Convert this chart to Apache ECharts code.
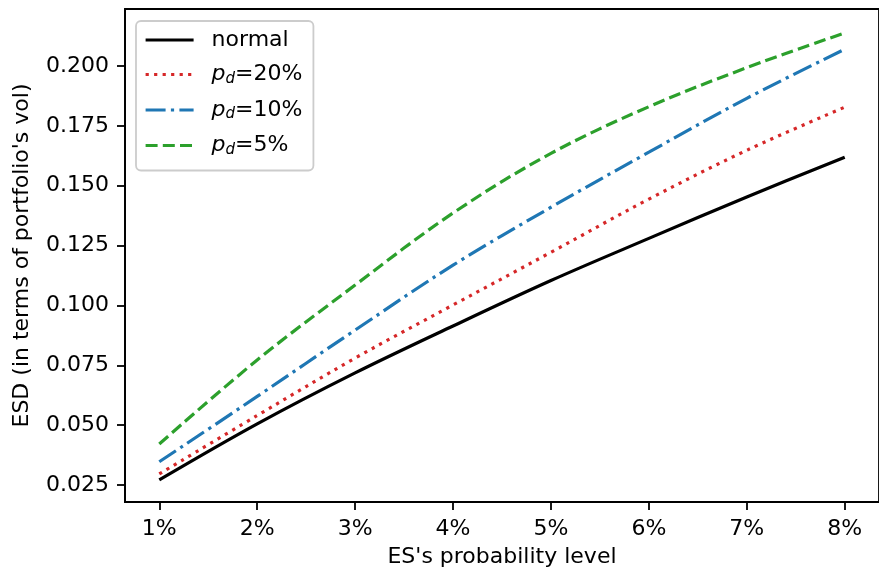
<!DOCTYPE html>
<html>
<head>
<meta charset="utf-8">
<script src="https://cdn.jsdelivr.net/npm/echarts@6/dist/echarts.min.js"></script>
<style>
  html, body { margin: 0; padding: 0; background: #fff; }
  #chart { width: 879px; height: 574px; }
</style>
</head>
<body>
<div id="chart"></div>
<script>
// ES probability level in %
const levels = [1, 2, 3, 4, 5, 6, 7, 8];
const normal = [0.0271, 0.0505, 0.0718, 0.0914, 0.1104, 0.1280, 0.1453, 0.1619];
const pd20 = [0.0296, 0.0540, 0.0780, 0.1002, 0.1222, 0.1444, 0.1648, 0.1828];
const pd10 = [0.0347, 0.0620, 0.0897, 0.1168, 0.1410, 0.1640, 0.1865, 0.2070];
const pd5 = [0.0421, 0.0772, 0.1085, 0.1386, 0.1635, 0.1830, 0.1993, 0.2138];
const xTicks = [1, 2, 3, 4, 5, 6, 7, 8];
const yTicks = [0.025, 0.05, 0.075, 0.1, 0.125, 0.15, 0.175, 0.2];

const chartDom = document.getElementById('chart');
const myChart = echarts.init(chartDom, null, { renderer: 'canvas' });

function pairs(vals) {
  return levels.map(function (x, i) { return [x, vals[i]]; });
}

function mkSeries(name, vals, color, type) {
  return {
    type: 'line',
    name: name,
    data: pairs(vals),
    smooth: 0.35,
    showSymbol: false,
    symbol: 'none',
    symbolSize: 0,
    lineStyle: { color: color, width: 3.2, type: type, cap: 'butt' },
    itemStyle: { color: color }
  };
}

const font = 'DejaVu Sans';
const fs = 22;

let option = {
  animation: false,
  textStyle: { fontFamily: font },
  grid: {
    left: 125, top: 9, right: -3, bottom: 72,
    show: true, borderColor: '#000', borderWidth: 1.8, backgroundColor: 'transparent'
  },
  legend: {
    left: 136, top: 21,
    orient: 'vertical',
    itemWidth: 48, itemHeight: 24, itemGap: 11.5,
    padding: [8, 11, 13, 8],
    borderColor: '#cccccc', borderWidth: 1.8, borderRadius: 5,
    backgroundColor: 'rgba(255,255,255,0.85)',
    itemStyle: { opacity: 0 },
    lineStyle: { width: 3.2 },
    textStyle: {
      fontFamily: font, fontSize: fs, color: '#000', padding: [0, 0, 0, 13],
      rich: {
        t: { fontFamily: font, fontSize: fs, color: '#000', lineHeight: 26 },
        i: { fontFamily: font, fontSize: fs, fontStyle: 'italic', color: '#000', lineHeight: 26 },
        s: { fontFamily: font, fontSize: 15, fontStyle: 'italic', color: '#000', lineHeight: 26, padding: [9, 0, 0, 0] }
      }
    },
    formatter: function (name) {
      if (name.indexOf('p_d=') === 0) {
        return '{i|p}{s|d}{t|=' + name.slice(4) + '}';
      }
      return '{t|' + name + '}';
    },
    data: ['normal', 'p_d=20%', 'p_d=10%', 'p_d=5%']
  },
  xAxis: {
    type: 'value',
    min: 0.65, max: 8.35,
    name: "ES's probability level",
    nameLocation: 'middle',
    nameGap: 44,
    nameTextStyle: { fontFamily: font, fontSize: fs, color: '#000' },
    splitLine: { show: false },
    axisLine: { show: true, onZero: false, lineStyle: { color: '#000', width: 1.8 } },
    axisTick: { show: true, inside: false, length: 8, lineStyle: { color: '#000', width: 1.8 }, customValues: xTicks },
    axisLabel: {
      color: '#000', fontSize: fs, fontFamily: font, margin: 16,
      customValues: xTicks,
      formatter: function (v) { return v + '%'; }
    }
  },
  yAxis: {
    type: 'value',
    min: 0.0179, max: 0.2238,
    name: "ESD (in terms of portfolio's vol)",
    nameLocation: 'middle',
    nameGap: 92,
    nameTextStyle: { fontFamily: font, fontSize: fs, color: '#000' },
    splitLine: { show: false },
    axisLine: { show: true, onZero: false, lineStyle: { color: '#000', width: 1.8 } },
    axisTick: { show: true, inside: false, length: 8, lineStyle: { color: '#000', width: 1.8 }, customValues: yTicks },
    axisLabel: {
      color: '#000', fontSize: fs, fontFamily: font, margin: 16,
      customValues: yTicks,
      formatter: function (v) { return v.toFixed(3); }
    }
  },
  series: [
    mkSeries('normal', normal, '#000000', 'solid'),
    mkSeries('p_d=20%', pd20, '#d62728', [3.2, 5.3]),
    mkSeries('p_d=10%', pd10, '#1f77b4', [20, 5.3, 3.2, 5.3]),
    mkSeries('p_d=5%', pd5, '#2ca02c', [12, 5.2])
  ]
};
myChart.setOption(option);
</script>
</body>
</html>
